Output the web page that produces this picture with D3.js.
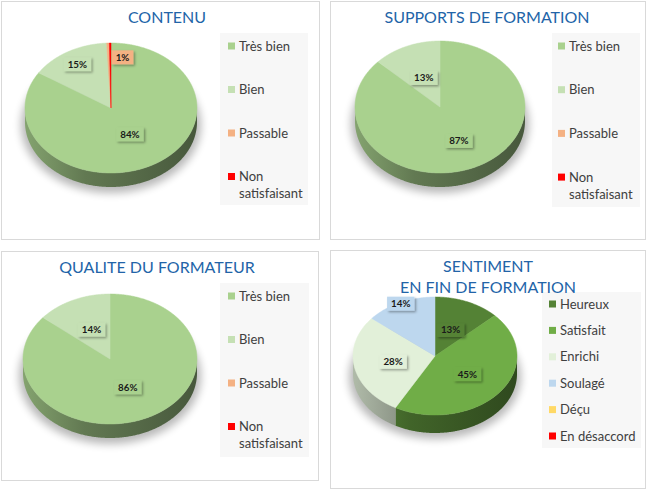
<!DOCTYPE html>
<html lang="fr">
<head>
<meta charset="UTF-8">
<title>Évaluation de la formation</title>
<script src="https://d3js.org/d3.v7.min.js"></script>
<style>
    body { margin: 0; background: #fff; }
    svg { display: block; font-family: Lato, "Open Sans", sans-serif; }
    .title { fill: #2264a8; font-size: 16px; text-anchor: middle; }
    .legend text { fill: #404040; font-size: 13px; }
    .lbl { font-size: 9.8px; font-weight: bold; fill: #1a1a1a; text-anchor: middle; }
</style>
</head>
<body>
<div id="chart"></div>
<script>
// Data
const niveauLabels = ["Très bien", "Bien", "Passable", "Non satisfaisant"];
const niveauColors = ["#a9d18e", "#c5e0b4", "#f4b183", "#ff0000"];
const contenuValues = [84.1, 15.1, 0.5, 0.3];
const supportsValues = [87, 13, 0, 0];
const formateurValues = [86, 14, 0, 0];

const sentimentLabels = ["Heureux", "Satisfait", "Enrichi", "Soulagé", "Déçu", "En désaccord"];
const sentimentColors = ["#548235", "#70ad47", "#e2f0d9", "#bdd7ee", "#ffd966", "#ff0000"];
const sentimentValues = [13, 45, 28, 14, 0, 0];

// Layout of the four panels
const charts = [
    { title: ["CONTENU"], labels: niveauLabels, values: contenuValues, colors: niveauColors,
      box: [1, 1, 318, 238], titleX: 167, titleY: 23,
      pie: { cx: 111, cy: 108, rx: 86, ry: 65, depth: 14 }, labelR: [0.46, 0.78, 0.78],
      legend: { x: 220, y: 33, w: 88, h: 172, first: 46, step: 43.5, mx: 228, tx: 239 } },
    { title: ["SUPPORTS DE FORMATION"], labels: niveauLabels, values: supportsValues, colors: niveauColors,
      box: [330, 1, 315, 238], titleX: 487, titleY: 23,
      pie: { cx: 440, cy: 107, rx: 85, ry: 66, depth: 14 }, labelR: [0.56, 0.48],
      legend: { x: 552, y: 33, w: 88, h: 174, first: 46, step: 43.7, mx: 558, tx: 569 } },
    { title: ["QUALITE DU FORMATEUR"], labels: niveauLabels, values: formateurValues, colors: niveauColors,
      box: [1, 251, 317, 229], titleX: 157, titleY: 273,
      pie: { cx: 110, cy: 359, rx: 87, ry: 65, depth: 14 }, labelR: [0.48, 0.5],
      legend: { x: 220, y: 283, w: 89, h: 174, first: 296, step: 43.5, mx: 228, tx: 239 } },
    { title: ["SENTIMENT", "EN FIN DE FORMATION"], labels: sentimentLabels, values: sentimentValues, colors: sentimentColors,
      box: [330, 250, 315, 238], titleX: 488, titleY: 272,
      pie: { cx: 435, cy: 356, rx: 82, ry: 59, depth: 18 }, labelR: [0.48, 0.5, 0.52, 0.98],
      legend: { x: 542, y: 292, w: 99, h: 156, first: 304, step: 26.4, mx: 549, tx: 560 } }
];

const svg = d3.select("#chart").append("svg")
    .attr("width", 650)
    .attr("height", 490);

const defs = svg.append("defs");

defs.append("filter").attr("id", "pieShadow")
    .attr("x", "-30%").attr("y", "-30%").attr("width", "160%").attr("height", "160%")
    .append("feGaussianBlur").attr("stdDeviation", 4);

defs.append("filter").attr("id", "boxShadow")
    .attr("x", "-40%").attr("y", "-40%").attr("width", "180%").attr("height", "180%")
    .append("feDropShadow")
    .attr("dx", 1.5).attr("dy", 1.5).attr("stdDeviation", 1)
    .attr("flood-color", "#000").attr("flood-opacity", 0.35);

function shade(c, k) {
    const col = d3.rgb(c);
    return d3.rgb(col.r * k, col.g * k, col.b * k).formatHex();
}

const pieGen = d3.pie().sort(null).value(d => d);

charts.forEach((ch, ci) => {
    const [bx, by, bw, bh] = ch.box;
    const p = ch.pie;

    // panel frame
    svg.append("rect")
        .attr("x", bx + 0.5).attr("y", by + 0.5)
        .attr("width", bw).attr("height", bh)
        .attr("fill", "#fff").attr("stroke", "#d9d9d9");

    const pt = (a, dy = 0) => [p.cx + p.rx * Math.sin(a), p.cy - p.ry * Math.cos(a) + dy];
    const arcPts = (a0, a1, dy) => {
        const n = Math.max(2, Math.ceil((a1 - a0) / 0.01));
        return d3.range(n + 1).map(i => pt(a0 + (a1 - a0) * i / n, dy));
    };
    const line = d3.line();

    // soft shadow under the pie
    svg.append("ellipse")
        .attr("cx", p.cx).attr("cy", p.cy + p.depth + 3)
        .attr("rx", p.rx + 4).attr("ry", p.ry + 3)
        .attr("fill", "#000").attr("opacity", 0.28)
        .attr("filter", "url(#pieShadow)");

    const arcs = pieGen(ch.values);
    const g = svg.append("g");

    // side walls (front half only)
    arcs.forEach((a, i) => {
        if (a.value <= 0) return;
        const s0 = Math.max(a.startAngle, Math.PI / 2);
        const s1 = Math.min(a.endAngle, Math.PI * 1.5);
        if (s1 <= s0) return;
        const gid = `side-${ci}-${i}`;
        const grad = defs.append("linearGradient").attr("id", gid)
            .attr("gradientUnits", "userSpaceOnUse")
            .attr("x1", p.cx - p.rx).attr("x2", p.cx + p.rx)
            .attr("y1", 0).attr("y2", 0);
        [[0, 0.78], [0.35, 0.58], [1, 0.42]].forEach(([o, k]) => {
            grad.append("stop").attr("offset", o).attr("stop-color", shade(ch.colors[i], k));
        });
        const pts = arcPts(s0, s1, 0).concat(arcPts(s0, s1, p.depth).reverse());
        g.append("path")
            .attr("d", line(pts) + "Z")
            .attr("fill", `url(#${gid})`);
    });

    // top faces
    arcs.forEach((a, i) => {
        if (a.value <= 0) return;
        const pts = [[p.cx, p.cy]].concat(arcPts(a.startAngle, a.endAngle, 0));
        g.append("path")
            .attr("d", line(pts) + "Z")
            .attr("fill", ch.colors[i])
            .attr("stroke", ch.colors[i]).attr("stroke-width", 0.5);
    });

    // data labels
    const total = d3.sum(ch.values);
    arcs.forEach((a, i) => {
        const pct = Math.round(a.value / total * 100);
        if (pct <= 0) return;
        const mid = (a.startAngle + a.endAngle) / 2;
        const f = ch.labelR[i] !== undefined ? ch.labelR[i] : 0.5;
        let lx = p.cx + p.rx * f * Math.sin(mid);
        const ly = p.cy - p.ry * f * Math.cos(mid);
        const lg = svg.append("g");
        const rect = lg.append("rect").attr("fill", ch.colors[i]).attr("filter", "url(#boxShadow)");
        const t = lg.append("text").attr("class", "lbl").attr("dy", "0.35em").text(pct + "%");
        const w = t.node().getComputedTextLength() + 8;
        if (a.value / total < 0.03) lx += w / 2 + 3; // tiny slice: label sits beside it
        t.attr("x", lx).attr("y", ly);
        rect.attr("x", lx - w / 2).attr("y", ly - 7).attr("width", w).attr("height", 14);
    });

    // legend
    const L = ch.legend;
    const lg = svg.append("g").attr("class", "legend");
    lg.append("rect")
        .attr("x", L.x).attr("y", L.y).attr("width", L.w).attr("height", L.h)
        .attr("fill", "#f7f7f7");
    ch.labels.forEach((lab, i) => {
        const cy = L.first + i * L.step;
        lg.append("rect")
            .attr("x", L.mx).attr("y", cy - 3.5)
            .attr("width", 7).attr("height", 7)
            .attr("fill", ch.colors[i]);
        const t = lg.append("text").attr("x", L.tx).attr("y", cy).attr("dy", "0.35em").text(lab);
        const avail = L.x + L.w - L.tx - 2;
        if (t.node().getComputedTextLength() > avail && lab.includes(" ")) {
            const cut = lab.lastIndexOf(" ");
            t.text(lab.slice(0, cut));
            lg.append("text").attr("x", L.tx).attr("y", cy + 17).attr("dy", "0.35em").text(lab.slice(cut + 1));
        }
    });

    // title on top of everything
    ch.title.forEach((t, i) => {
        svg.append("text").attr("class", "title")
            .attr("x", ch.titleX).attr("y", ch.titleY + i * 21)
            .text(t);
    });
});
</script>
</body>
</html>
